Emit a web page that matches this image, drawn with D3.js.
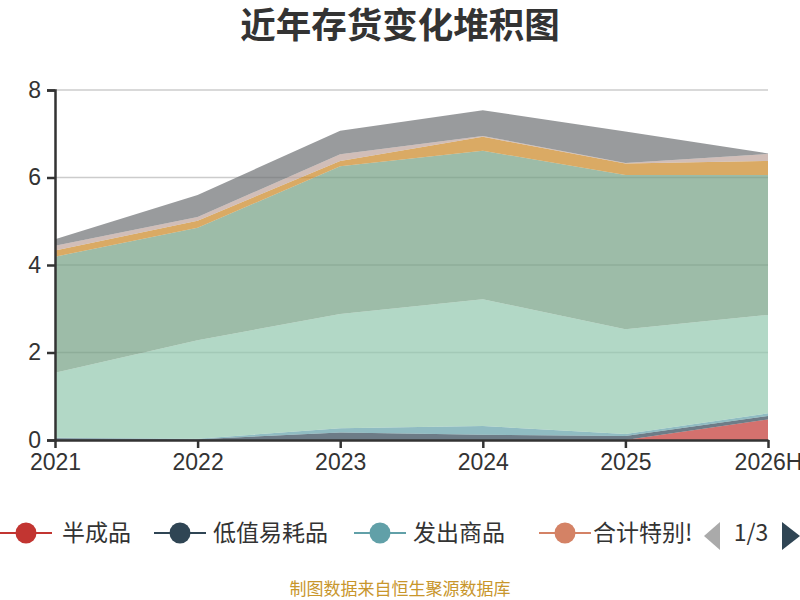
<!DOCTYPE html>
<html><head><meta charset="utf-8">
<script src="https://cdn.jsdelivr.net/npm/d3@7/dist/d3.min.js"></script>
<style>body{margin:0;background:#fff}svg{display:block;font-family:"Noto Sans CJK SC","Noto Sans",sans-serif}</style>
</head><body><svg id="c" width="800" height="600"></svg>
<script>
const categories = ["2021","2022","2023","2024","2025","2026H"];
const seriesNames = ["半成品","低值易耗品","发出商品","合计特别!","库存商品","原材料","在产品","委托加工物资","周转材料"];
const seriesColors = ["#c23531","#2f4554","#61a0a8","#d48265","#91c7ae","#749f83","#ca8622","#bda29a","#6e7074"];
const s0 = [0,0,0,0,0,0.47];
const s1 = [0.04,0.02,0.17,0.12,0.09,0.08];
const s2 = [0.01,0.01,0.10,0.20,0.05,0.06];
const s3 = [0,0,0,0,0,0];
const s4 = [1.49,2.25,2.61,2.90,2.39,2.25];
const s5 = [2.65,2.57,3.38,3.39,3.53,3.20];
const s6 = [0.14,0.16,0.12,0.32,0.26,0.32];
const s7 = [0.11,0.09,0.15,0.02,0.01,0.16];
const s8 = [0.15,0.50,0.54,0.59,0.72,0.01];
const seriesValues = [s0,s1,s2,s3,s4,s5,s6,s7,s8];
const yTicks = [0,2,4,6,8];
const titleText = "近年存货变化堆积图";
const sourceText = "制图数据来自恒生聚源数据库";
const yAxisName = "单位：亿元";
const pageText = "1/3";

const svg = d3.select("#c");
const x = d3.scalePoint().domain(categories).range([55,768]);
const y = d3.scaleLinear().domain([0,8]).range([440,90]);

// title
svg.append("text").attr("x",400).attr("y",38).attr("text-anchor","middle")
  .attr("font-size",35.5).attr("font-weight","bold").attr("fill","#333").text(titleText);

// grid
svg.append("g").selectAll("line").data(yTicks.filter(d=>d>0)).join("line")
  .attr("x1",55).attr("x2",768).attr("y1",d=>y(d)).attr("y2",d=>y(d))
  .attr("stroke","#ccc").attr("stroke-width",1.5);

// stack
const rows = categories.map((c,i)=>{const o={cat:c}; seriesNames.forEach((n,k)=>o[n]=seriesValues[k][i]); return o;});
const stack = d3.stack().keys(seriesNames)(rows);
const area = d3.area().x(d=>x(d.data.cat)).y0(d=>y(d[0])).y1(d=>y(d[1]));
svg.append("g").selectAll("path").data(stack).join("path")
  .attr("d",area).attr("fill",(d,i)=>seriesColors[i]).attr("fill-opacity",0.7);

// axes
const yAxis = d3.axisLeft(y).tickValues(yTicks).tickSize(8).tickPadding(6).tickFormat(d3.format("d"));
const gy = svg.append("g").attr("transform","translate(55,0)").call(yAxis);
gy.select(".domain").attr("stroke","#333").attr("stroke-width",2.5);
gy.selectAll(".tick line").attr("stroke","#333").attr("stroke-width",2.5);
gy.selectAll(".tick text").attr("font-size",23).attr("fill","#333").attr("font-family","inherit");

const xAxis = d3.axisBottom(x).tickSize(8).tickPadding(6).tickSizeOuter(0);
const gx = svg.append("g").attr("transform","translate(0,440)").call(xAxis);
gx.select(".domain").attr("stroke","#333").attr("stroke-width",2.5);
gx.selectAll(".tick line").attr("stroke","#333").attr("stroke-width",2.5);
gx.selectAll(".tick text").attr("font-size",23).attr("fill","#333").attr("font-family","inherit");

// y axis name (mostly off-canvas)
svg.append("text").attr("transform","translate(-4,115) rotate(-90)").attr("text-anchor","middle")
  .attr("font-size",14).attr("fill","#ff0000").text(yAxisName);

// legend
const legendItems = [
  {i:0, cx:26, tx:62},
  {i:1, cx:180, tx:213},
  {i:2, cx:380, tx:413},
  {i:3, cx:565, tx:593}
];
const ly = 533;
svg.append("defs").append("clipPath").attr("id","lc").append("rect").attr("x",0).attr("y",500).attr("width",694).attr("height",70);
const lg = svg.append("g").attr("clip-path","url(#lc)");
legendItems.forEach(it=>{
  const g = lg.append("g");
  g.append("line").attr("x1",it.cx-26).attr("x2",it.cx+26).attr("y1",ly).attr("y2",ly)
    .attr("stroke",seriesColors[it.i]).attr("stroke-width",2);
  g.append("circle").attr("cx",it.cx).attr("cy",ly).attr("r",10.5).attr("fill",seriesColors[it.i]);
  g.append("text").attr("x",it.tx).attr("y",ly+8).attr("font-size",23).attr("fill","#333").text(seriesNames[it.i]);
});
// pager
svg.append("path").attr("d","M720,522 L704,536 L720,550 Z").attr("fill","#aaa");
svg.append("text").attr("x",751).attr("y",ly+8).attr("text-anchor","middle").attr("font-size",23).attr("fill","#333").text(pageText);
svg.append("path").attr("d","M782,522 L800,536 L782,550 Z").attr("fill","#2f4554");

// source
svg.append("text").attr("x",400).attr("y",595).attr("text-anchor","middle")
  .attr("font-size",17).attr("fill","#c8962c").text(sourceText);
</script></body></html>
